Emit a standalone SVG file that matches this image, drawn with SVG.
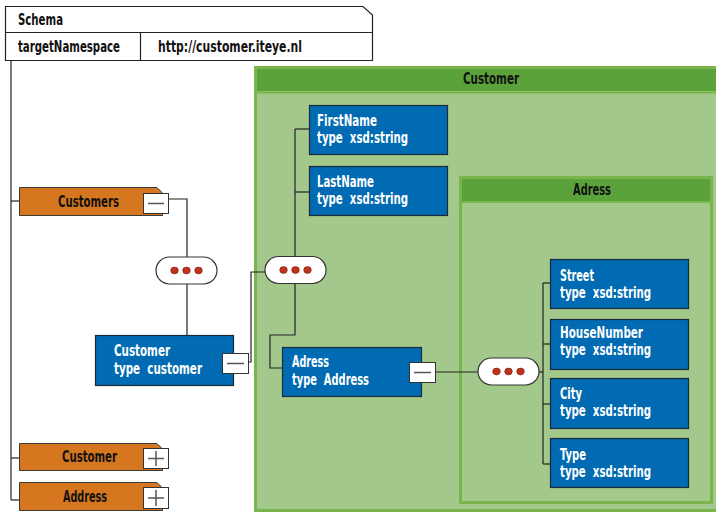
<svg xmlns="http://www.w3.org/2000/svg" width="716" height="512" viewBox="0 0 716 512">
<style>
text{font-family:"DejaVu Sans Condensed","Liberation Sans Narrow","Liberation Sans",sans-serif;font-size:15px;font-weight:bold;white-space:pre}
.dk{fill:#111}
.wt{fill:#fff}
.blue{fill:#006bb2;stroke:#1b2a36;stroke-width:1.2}
.org{fill:#d6761e;stroke:#3a3a3a;stroke-width:1}
.btn{fill:#fff;stroke:#333;stroke-width:1}
.btnl{stroke:#555;stroke-width:1.5;fill:none}
.ln{stroke:#222;stroke-width:1.2;fill:none}
.body{fill:#a3c88b;stroke:#79b54a;stroke-width:3}
.head{fill:#5ba23b}
.oval{fill:#fff;stroke:#333;stroke-width:1.2}
.dot{fill:#c0321c;stroke:#7a1e10;stroke-width:0.6}
</style>
<defs>
<g id="seq">
<rect class="oval" x="-30.5" y="-13.5" width="61" height="27" rx="13.5"/>
<ellipse class="dot" cx="-12" cy="0" rx="3.8" ry="3.4"/>
<ellipse class="dot" cx="0" cy="0" rx="3.8" ry="3.4"/>
<ellipse class="dot" cx="12" cy="0" rx="3.8" ry="3.4"/>
</g>
</defs>

<!-- Schema header -->
<g id="schema">
<path d="M5.5,6.5 H363 L372.5,15 V60.5 H5.5 Z" fill="#fff" stroke="#222" stroke-width="1.2"/>
<line x1="5.5" y1="32.5" x2="372.5" y2="32.5" stroke="#222" stroke-width="1.2"/>
<line x1="140.5" y1="32.5" x2="140.5" y2="60.5" stroke="#222" stroke-width="1.2"/>
<text class="dk" x="18" y="25" textLength="45" lengthAdjust="spacingAndGlyphs">Schema</text>
<text class="dk" x="18" y="52" textLength="102" lengthAdjust="spacingAndGlyphs">targetNamespace</text>
<text class="dk" x="158" y="52" textLength="144" lengthAdjust="spacingAndGlyphs">http://customer.iteye.nl</text>
</g>

<!-- Customer panel -->
<g id="customer-type">
<rect class="body" x="255.5" y="67.5" width="470" height="443"/>
<rect class="head" x="257" y="69" width="467" height="22"/>
<line x1="257" y1="92.5" x2="724" y2="92.5" stroke="#79b54a" stroke-width="2"/>
<text class="dk" x="491" y="84" text-anchor="middle" textLength="56" lengthAdjust="spacingAndGlyphs">Customer</text>
</g>

<!-- Adress panel -->
<g id="adress-type">
<rect class="body" x="460.5" y="177.5" width="251" height="325"/>
<rect class="head" x="462" y="179" width="248" height="22"/>
<line x1="462" y1="202" x2="710" y2="202" stroke="#79b54a" stroke-width="2"/>
<text class="dk" x="592" y="195" text-anchor="middle" textLength="38" lengthAdjust="spacingAndGlyphs">Adress</text>
</g>

<!-- connectors -->
<g id="connectors">
<line class="ln" x1="11" y1="60.5" x2="11" y2="500"/>
<line class="ln" x1="11" y1="201" x2="19" y2="201"/>
<line class="ln" x1="11" y1="458" x2="19" y2="458"/>
<line class="ln" x1="11" y1="500" x2="19" y2="500"/>
<polyline class="ln" points="168,199 187,199 187,335"/>
<polyline class="ln" points="248,362 251,362 251,272 265,272"/>
<line class="ln" x1="295" y1="129" x2="295" y2="257"/>
<line class="ln" x1="295" y1="129" x2="309" y2="129"/>
<line class="ln" x1="295" y1="192" x2="309" y2="192"/>
<polyline class="ln" points="295,283 295,335 270,335 270,368 282,368"/>
<line class="ln" x1="435" y1="372" x2="478" y2="372"/>
<polyline class="ln" points="539,372 543,372"/>
<line class="ln" x1="543" y1="283" x2="543" y2="464"/>
<line class="ln" x1="543" y1="283" x2="550" y2="283"/>
<line class="ln" x1="543" y1="344" x2="550" y2="344"/>
<line class="ln" x1="543" y1="404" x2="550" y2="404"/>
<line class="ln" x1="543" y1="464" x2="550" y2="464"/>
<use href="#seq" x="186.5" y="270.5"/>
<use href="#seq" x="295.5" y="270"/>
<use href="#seq" x="508.5" y="371.5"/>
</g>

<!-- Customers element -->
<g id="customers">
<path class="org" d="M19.5,187.5 H157 L162.5,193 V215.5 H19.5 Z"/>
<text class="dk" x="58" y="207" textLength="61" lengthAdjust="spacingAndGlyphs">Customers</text>
<rect class="btn" x="143.5" y="193.5" width="25" height="20"/>
<line class="btnl" x1="148" y1="203.5" x2="164" y2="203.5"/>
</g>

<g id="customer-element">
<path class="org" d="M19.5,443.5 H157 L162.5,449 V470.5 H19.5 Z"/>
<text class="dk" x="62" y="462" textLength="55" lengthAdjust="spacingAndGlyphs">Customer</text>
<rect class="btn" x="143.5" y="448.5" width="25" height="20"/>
<line class="btnl" x1="148" y1="458.5" x2="164" y2="458.5"/>
<line class="btnl" x1="156" y1="451" x2="156" y2="466"/>
</g>

<g id="address-element">
<path class="org" d="M19.5,482.5 H157 L162.5,488 V510.5 H19.5 Z"/>
<text class="dk" x="63" y="502" textLength="44" lengthAdjust="spacingAndGlyphs">Address</text>
<rect class="btn" x="143.5" y="487.5" width="25" height="21"/>
<line class="btnl" x1="148" y1="498" x2="164" y2="498"/>
<line class="btnl" x1="156" y1="490" x2="156" y2="506"/>
</g>

<!-- Customer (type customer) -->
<g id="customer">
<rect class="blue" x="95.5" y="335.5" width="138" height="50"/>
<text class="wt" x="114" y="356" textLength="56" lengthAdjust="spacingAndGlyphs">Customer</text>
<text class="wt" x="114" y="373.5" textLength="88" lengthAdjust="spacingAndGlyphs">type  customer</text>
<rect class="btn" x="222.5" y="353.5" width="26" height="20"/>
<line class="btnl" x1="227" y1="363.5" x2="244" y2="363.5"/>
</g>

<g id="firstname">
<rect class="blue" x="309.5" y="105.5" width="138" height="49"/>
<text class="wt" x="317" y="126" textLength="60" lengthAdjust="spacingAndGlyphs">FirstName</text>
<text class="wt" x="317" y="143" textLength="91" lengthAdjust="spacingAndGlyphs">type  xsd:string</text>
</g>

<g id="lastname">
<rect class="blue" x="309.5" y="166.5" width="138" height="49"/>
<text class="wt" x="317" y="187" textLength="57" lengthAdjust="spacingAndGlyphs">LastName</text>
<text class="wt" x="317" y="204" textLength="91" lengthAdjust="spacingAndGlyphs">type  xsd:string</text>
</g>

<g id="adress">
<rect class="blue" x="282.5" y="347.5" width="139" height="49"/>
<text class="wt" x="292" y="367" textLength="37" lengthAdjust="spacingAndGlyphs">Adress</text>
<text class="wt" x="292" y="384.5" textLength="77" lengthAdjust="spacingAndGlyphs">type  Address</text>
<rect class="btn" x="409.5" y="362.5" width="26" height="20"/>
<line class="btnl" x1="414" y1="372.5" x2="431" y2="372.5"/>
</g>

<g id="street">
<rect class="blue" x="550.5" y="259.5" width="138" height="49"/>
<text class="wt" x="560" y="281" textLength="34" lengthAdjust="spacingAndGlyphs">Street</text>
<text class="wt" x="560" y="298" textLength="91" lengthAdjust="spacingAndGlyphs">type  xsd:string</text>
</g>

<g id="housenumber">
<rect class="blue" x="550.5" y="319.5" width="138" height="50"/>
<text class="wt" x="560" y="338" textLength="83" lengthAdjust="spacingAndGlyphs">HouseNumber</text>
<text class="wt" x="560" y="355" textLength="91" lengthAdjust="spacingAndGlyphs">type  xsd:string</text>
</g>

<g id="city">
<rect class="blue" x="550.5" y="378.5" width="138" height="50"/>
<text class="wt" x="560" y="399" textLength="22" lengthAdjust="spacingAndGlyphs">City</text>
<text class="wt" x="560" y="416" textLength="91" lengthAdjust="spacingAndGlyphs">type  xsd:string</text>
</g>

<g id="type">
<rect class="blue" x="550.5" y="438.5" width="138" height="49"/>
<text class="wt" x="560" y="460" textLength="26" lengthAdjust="spacingAndGlyphs">Type</text>
<text class="wt" x="560" y="477" textLength="91" lengthAdjust="spacingAndGlyphs">type  xsd:string</text>
</g>
</svg>
